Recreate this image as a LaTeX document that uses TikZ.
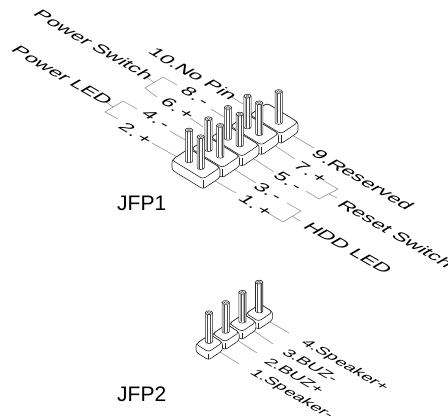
\documentclass[tikz,border=0pt]{standalone}
\usepackage{fontspec}
\setmainfont{Liberation Sans}
% isometric text: x vector along the baseline, y vector along the letter stems
\tikzset{
  isotext/.style={cm={1.88,-1.08,1.38,0.8,(0,0)},anchor=base west,inner sep=0pt,outer sep=0pt,font=\fontsize{10}{10}\selectfont,text=black},
  isosmall/.style={cm={1.62,-0.93,1.18,0.68,(0,0)},anchor=base west,inner sep=0pt,outer sep=0pt,font=\fontsize{10}{10}\selectfont,text=black},
  leader/.style={draw=black!45,line width=0.55pt},
  outline/.style={draw=black!85,line width=0.6pt},
  title/.style={anchor=base west,inner sep=0pt,font=\fontsize{21}{21}\selectfont,text=black}
}
\newcommand{\sgap}{\hspace{1pt}}
% block with left corner at (#1,#2); vectors (#3,#4) front, (#5,#6) right; height #7
\newcommand{\hdrblock}[7]{%
  \begin{scope}[shift={(#1,#2)}]
    \path[outline,fill=white,rounded corners=2.5pt] (0,0) -- (0,#7) -- ({#3},{#4+#7}) -- ({#3+#5},{#4+#6+#7}) -- ({#3+#5},{#4+#6}) -- ({#5},{#6}) -- cycle;
    \path[outline,fill=white,rounded corners=3pt] (0,0) -- (#3,#4) -- ({#3+#5},{#4+#6}) -- (#5,#6) -- cycle;
    \draw[outline] ({#3},{#4+1.5}) -- ({#3},{#4+#7-1});
  \end{scope}}
% pin with top centre at (#1,#2), length #3
\newcommand{\hdrpin}[3]{%
  \begin{scope}[shift={(#1,#2)}]
    \path[outline,fill=white] (-3.6,0) -- (-3.6,#3) arc[start angle=180,end angle=360,x radius=3.6,y radius=-1.8,] -- (3.6,0) -- cycle;
    \fill[black!30] (-2.3,1) rectangle (-1,#3);
    \fill[black!30] (1,1) rectangle (2.3,#3);
    \draw[black!70,line width=0.35pt] (-1.6,2) -- (-1.6,#3+1) (1.6,2) -- (1.6,#3+1);
    \path[outline,fill=white] (0,0) ellipse[x radius=3.6,y radius=1.9];
    \path[draw=black!70,line width=0.35pt] (0,0) ellipse[x radius=1.8,y radius=0.9];
  \end{scope}}
\begin{document}
\begin{tikzpicture}[x=1pt,y=-1pt]
\useasboundingbox (0,0) rectangle (448,420);
% --- JFP1 leaders
\draw[leader] (152,143) -- (177,157);
\draw[leader] (170,131) -- (185,140);
\draw[leader] (190,118) -- (203,127);
\draw[leader] (211,109) -- (224,117);
\draw[leader] (230,96) -- (243,104);
\draw[leader] (292,135) -- (314,148);
\draw[leader] (274,145) -- (295,159);
\draw[leader] (254,159) -- (274,172);
\draw[leader] (232,168) -- (256,183);
\draw[leader] (210,178) -- (236,193);
% brackets
\draw[leader] (146,77) -- (155,83);
\draw[leader] (177,85) -- (163,77) -- (145,88) -- (157,97);
\draw[leader] (106,102) -- (113,107);
\draw[leader] (137,109) -- (123,101) -- (105,112) -- (118,119);
\draw[leader] (324,181) -- (338,189) -- (319,199) -- (306,191);
\draw[leader] (329,194) -- (337,198);
\draw[leader] (287,203) -- (301,211) -- (283,222) -- (268,213);
\draw[leader] (292,216) -- (300,221);
% --- JFP1 blocks, back to front
\foreach \k in {4,3,2,1,0}{
  \hdrblock{172+19.5*\k}{160-11.3*\k}{31}{19}{17}{-11.5}{10}
}
\foreach \k in {4,3,2,1,0}{
  \ifnum\k<4 \hdrpin{189+19.5*\k}{130-11.3*\k}{31}\fi
  \hdrpin{200.7+19.5*\k}{136.7-11.3*\k}{31}
}
% --- JFP1 labels
\node[isotext] (t1) at (32,15) {Power Switch};
\node[isotext] (t2) at (10,51) {Power LED};
\node[isotext] (t3) at (147,53) {10.No Pin};
\node[isotext] (t4) at (179,92) {8.\sgap-};
\node[isotext] (t5) at (159,103) {6.\sgap+};
\node[isotext] (t6) at (140,115) {4.\sgap-};
\node[isotext] (t7) at (117,128) {2.\sgap+};
\node[isotext] (t8) at (310,155) {9.Reserved};
\node[isotext] (t9) at (292,167) {7.\sgap+};
\node[isotext] (t10) at (272,177) {5.\sgap-};
\node[isotext] (t11) at (252,187) {3.\sgap-};
\node[isotext] (t12) at (237,200) {1.\sgap+};
\node[isotext] (t13) at (336,205) {Reset Switch};
\node[isotext] (t14) at (302,227) {HDD LED};
\node[title] (jfp1) at (117,211) {JFP1};
% --- JFP2
\draw[leader] (270,322) -- (289,333);
\draw[leader] (254,331) -- (273,344);
\draw[leader] (237,340) -- (257,353);
\draw[leader] (220,352) -- (239,364);
\foreach \k in {3,2,1,0}{
  \hdrblock{196+16.7*\k}{344-10.2*\k}{12.5}{8}{14}{-9.5}{8}
}
\foreach \k in {3,2,1,0}{
  \hdrpin{209+16.7*\k}{312.7-10.2*\k}{29}
}
\node[isosmall] (s1) at (249,373) {1.Speaker-};
\node[isosmall] (s2) at (263,362) {2.BUZ+};
\node[isosmall] (s3) at (281,353) {3.BUZ-};
\node[isosmall] (s4) at (300,343) {4.Speaker+};
\node[title] (jfp2) at (117,401) {JFP2};
\end{tikzpicture}
\end{document}
